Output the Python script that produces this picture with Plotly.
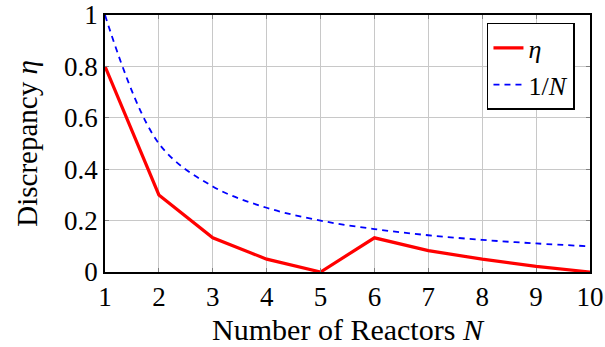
import plotly.graph_objects as go

N = [1, 2, 3, 4, 5, 6, 7, 8, 9, 10]
eta = [0.8, 0.3, 0.133, 0.05, 0.0, 0.133, 0.083, 0.05, 0.022, 0.0]
inv_N = [1.0, 0.5, 0.333, 0.25, 0.2, 0.167, 0.143, 0.125, 0.111, 0.1]
x_ticks = [1, 2, 3, 4, 5, 6, 7, 8, 9, 10]
y_ticks = [0, 0.2, 0.4, 0.6, 0.8, 1]
y_labels = ["0", "0.2", "0.4", "0.6", "0.8", "1"]

FONT = "Liberation Serif"

fig = go.Figure()
fig.add_trace(go.Scatter(x=N, y=eta, mode="lines", name="<i>η</i>",
                         line=dict(color="#ff0000", width=3.2)))
fig.add_trace(go.Scatter(x=N, y=inv_N, mode="lines", name="1/<i>N</i>",
                         line=dict(color="#0000ff", width=1.8, dash="6px,5px", shape="spline", smoothing=1.0)))

fig.update_layout(
    width=605, height=347,
    margin=dict(l=105, r=15, t=15, b=75),
    paper_bgcolor="white", plot_bgcolor="white",
    font=dict(family=FONT, size=24, color="black"),
    legend=dict(x=0.969, y=0.969, xanchor="right", yanchor="top",
                bgcolor="white", bordercolor="black", borderwidth=1.5,
                font=dict(size=26), tracegroupgap=0),
    xaxis=dict(range=[1, 10], tickvals=x_ticks, showgrid=True, gridcolor="#c8c8c8", gridwidth=1,
               showline=True, linecolor="black", linewidth=1.5, mirror="ticks",
               ticks="inside", ticklen=4, tickcolor="#808080", automargin=False,
               tickfont=dict(size=27),
               title=dict(text="Number of Reactors <i>N</i>", font=dict(size=30), standoff=8),
               zeroline=False),
    yaxis=dict(range=[0, 1], tickvals=y_ticks, ticktext=y_labels, showgrid=True, gridcolor="#c8c8c8", gridwidth=1,
               showline=True, linecolor="black", linewidth=1.5, mirror="ticks",
               ticks="inside", ticklen=4, tickcolor="#808080", automargin=False,
               tickfont=dict(size=27),
               title=dict(text="Discrepancy <i>η</i>", font=dict(size=29), standoff=18),
               zeroline=False),
)
fig.write_html("out.html")
